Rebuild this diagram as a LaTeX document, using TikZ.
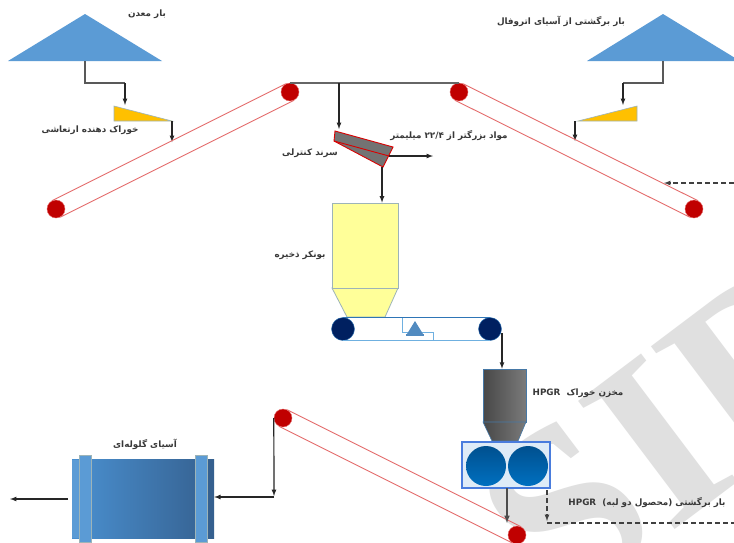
\documentclass[tikz,border=0pt]{standalone}
\usepackage{fontspec}
\usepackage{tikz}
\usetikzlibrary{arrows}
\TeXXeTstate=1
\newfontfamily\farsi[Script=Arabic]{DejaVu Sans}
\newfontfamily\markfont{Liberation Serif}
\definecolor{pileblue}{HTML}{5B9BD5}
\definecolor{millblue}{HTML}{4A90D0}
\definecolor{milldark}{HTML}{35608F}
\definecolor{navy}{HTML}{002060}
\definecolor{beltblue}{HTML}{2E75B6}
\definecolor{lightbelt}{HTML}{6FB0E0}
\definecolor{darkred}{HTML}{C00000}
\definecolor{beltred}{HTML}{E46C6C}
\definecolor{binyellow}{HTML}{FFFF99}
\definecolor{edgegray}{HTML}{9DB4B8}
\definecolor{feedgold}{HTML}{FFC000}
\definecolor{rollhi}{HTML}{0070C0}
\definecolor{rolllo}{HTML}{00508F}
\tikzset{
    lbl/.style={font=\farsi\bfseries\fontsize{8.8}{10}\selectfont,text=black!78,inner sep=0pt},
    roller/.style={circle,fill=darkred,draw=beltred,line width=.4pt,minimum size=18pt,inner sep=0pt},
    drum/.style={circle,fill=navy,draw=beltblue,line width=.4pt,minimum size=23pt,inner sep=0pt},
    roll/.style={circle,top color=rolllo,bottom color=rollhi,minimum size=40pt,inner sep=0pt},
    belt/.style={draw=beltred,line width=.9pt},
    feed/.style={-latex,line width=1.2pt,black!85},
    pipe/.style={line width=1.7pt,black!65},
    retour/.style={-latex,line width=1.2pt,black!75,dash pattern=on 5pt off 3pt},
    pile/.style={fill=pileblue},
    bin/.style={fill=binyellow,draw=edgegray,line width=.8pt},
    darkbin/.style={left color=black!72,right color=black!52,draw=beltblue!70!gray,line width=.6pt},
    feeder/.style={fill=feedgold,draw=edgegray,line width=.6pt},
    band/.style={fill=pileblue,draw=edgegray,line width=.4pt}
}
\begin{document}
\begin{tikzpicture}[x=1pt,y=-1pt]
    \useasboundingbox (0,0) rectangle (734,542);
    \clip (0,0) rectangle (734,542);
    \fill[white] (0,0) rectangle (734,542);
    \node[rotate=37,text=black!12,inner sep=0pt,font=\markfont\bfseries\fontsize{245}{245}\selectfont] (mark) at (675,430) {SID};

    % piles
    \fill[pile] (85,14) -- (162,61) -- (8,61) -- cycle;
    \fill[pile] (663,14) -- (740,61) -- (587,61) -- cycle;
    \coordinate (oreOut) at (85,61);
    \coordinate (backOut) at (663,61);

    % feeders
    \draw[feeder] (114,106) -- (172,121) -- (114,121) -- cycle;
    \draw[feeder] (637,106) -- (578,121) -- (637,121) -- cycle;
    \coordinate (oreFeed) at (125,105);
    \coordinate (backFeed) at (623,105);
    \coordinate (oreDrop) at (172,121);
    \coordinate (backDrop) at (575,121);
    \coordinate (oreBelt) at (172,142);
    \coordinate (backBelt) at (575,141);
    \draw[pipe] (oreOut) -- (85,83) -- (125,83);
    \draw[feed] (125,83) -- (oreFeed);
    \draw[pipe] (backOut) -- (663,83) -- (623,83);
    \draw[feed] (623,83) -- (backFeed);
    \draw[feed] (oreDrop) -- (oreBelt);
    \draw[feed] (backDrop) -- (backBelt);

    % conveyors
    \node[roller] (leftTop) at (290,92) {};
    \node[roller] (leftEnd) at (56,209) {};
    \node[roller] (rightTop) at (459,92) {};
    \node[roller] (rightEnd) at (694,209) {};
    \node[roller] (millTop) at (283,418) {};
    \node[roller] (millEnd) at (517,535) {};
    \draw[belt] (leftTop.117) -- (leftEnd.117) (leftTop.-63) -- (leftEnd.-63);
    \draw[belt] (rightTop.63) -- (rightEnd.63) (rightTop.-117) -- (rightEnd.-117);
    \draw[belt] (millTop.63) -- (millEnd.63) (millTop.-117) -- (millEnd.-117);

    % top line and screen
    \draw[line width=2pt,black!60] (leftTop.north) -- (rightTop.north);
    \coordinate (splitTop) at (339,83);
    \coordinate (screenIn) at (339,129);
    \draw[feed] (splitTop) -- (screenIn);
    \draw[fill=black!55,draw=red!85!black,line width=.9pt] (335,131) -- (393,147) -- (388,157) -- (383,167) -- (334,141) -- cycle;
    \draw[draw=red!85!black,line width=.9pt] (334,141) -- (389,156);
    \coordinate (screenOver) at (389,156);
    \coordinate (overOut) at (433,156);
    \coordinate (screenUnder) at (382,167);
    \draw[feed] (screenOver) -- (overOut);

    % bunker
    \draw[bin] (332,288) -- (398,288) -- (385,317) -- (347,317) -- cycle;
    \node[bin,rectangle,minimum width=66pt,minimum height=85pt,inner sep=0pt] (bunker) at (365,245.5) {};
    \draw[feed] (screenUnder) -- (bunker.north -| screenUnder);

    % weigh belt
    \node[drum] (drumA) at (343,329) {};
    \node[drum] (drumB) at (490,329) {};
    \draw[beltblue,line width=1.3pt] (drumA.north) -- (drumB.north);
    \draw[lightbelt,line width=1.3pt] (drumA.south) -- (drumB.south);
    \draw[lightbelt,line width=1pt] (402,318) -- (402,332) -- (433,332) -- (433,340);
    \fill[pileblue!90!black] (415,321) -- (423,334) -- (407,334) -- cycle;
    \draw[pileblue!90!black,line width=1.4pt] (406,335) -- (424,335);

    % hpgr
    \coordinate (drumOut) at (502,333);
    \node[darkbin,rectangle,minimum width=43pt,minimum height=53pt,inner sep=0pt] (feedBin) at (504.5,395.5) {};
    \draw[darkbin] (483,422) -- (526,422) -- (518,441) -- (492,441) -- cycle;
    \draw[feed] (drumOut) -- (feedBin.north -| drumOut);
    \node[rectangle,fill=pileblue!20,draw=pileblue!80!blue,line width=1.2pt,minimum width=88pt,minimum height=46pt,inner sep=0pt] (hpgr) at (506,465) {};
    \node[roll] (rollA) at (486,466) {};
    \node[roll] (rollB) at (528,466) {};
    \coordinate (hpgrOut) at (507,488);
    \coordinate (beltIn) at (507,523);
    \draw[feed,line width=1.5pt,black!70] (hpgrOut) -- (beltIn);

    % return lines
    \coordinate (edgeTop) at (547,490);
    \coordinate (edgeDown) at (547,521);
    \coordinate (edgeRight) at (734,523);
    \coordinate (edgeCorner) at (547,523);
    \draw[retour] (edgeTop) -- (edgeDown);
    \draw[line width=1.2pt,black!75,dash pattern=on 5pt off 3pt] (edgeCorner) -- (edgeRight);
    \coordinate (rightIn) at (734,183);
    \coordinate (rightHit) at (664,183);
    \draw[retour] (rightIn) -- (rightHit);

    % mill
    \node[rectangle,left color=millblue,right color=milldark,minimum width=142pt,minimum height=79pt,inner sep=0pt] (mill) at (143,498.5) {};
    \fill[milldark] (195,460) rectangle (214,538);
    \fill[pileblue] (72,460) rectangle (85,538);
    \draw[band] (79,455) rectangle (91,542);
    \draw[band] (195,455) rectangle (207,542);
    \coordinate (millBend) at (274,497);
    \coordinate (millDot) at (274,496);
    \coordinate (millOutA) at (68,499);
    \coordinate (millOutB) at (10,499);
    \draw[feed] (millTop.west) -- (millDot);
    \draw[feed] (millBend) -- (mill.east |- millBend);
    \draw[feed] (millOutA) -- (millOutB);

    % labels
    \node[lbl] (oreTxt) at (147,14) {\beginR بار معدن\endR};
    \node[lbl] (vibroTxt) at (90,130) {\beginR خوراک دهنده ارتعاشی\endR};
    \node[lbl] (screenTxt) at (310,153) {\beginR سرند کنترلی\endR};
    \node[lbl] (overTxt) at (449,136) {\beginR مواد بزرگتر از \beginL ۲۲/۴\endL{} میلیمتر\endR};
    \node[lbl] (bunkerTxt) at (300,255) {\beginR بونکر ذخیره\endR};
    \node[lbl] (binTxt) at (578,393) {\beginR مخزن خوراک \ \beginL HPGR\endL\endR};
    \node[lbl] (backTxt) at (561,21) {\beginR بار برگشتی از آسیای اتروفال\endR};
    \node[lbl] (millTxt) at (145,444) {\beginR آسیای گلوله‌ای\endR};
    \node[lbl] (edgeTxt) at (647,503) {\beginR بار برگشتی (محصول دو لبه) \ \beginL HPGR\endL\endR};
\end{tikzpicture}
\end{document}
